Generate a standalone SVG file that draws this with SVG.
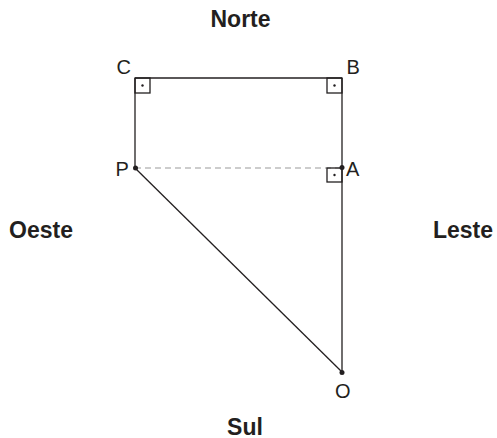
<svg xmlns="http://www.w3.org/2000/svg" width="497" height="438" viewBox="0 0 497 438">
<style>
.l{font-family:"Liberation Sans",Arial,sans-serif;font-size:20px;fill:#231f20}
.b{font-family:"Liberation Sans",Arial,sans-serif;font-size:23px;font-weight:bold;fill:#231f20;text-anchor:middle}
.s{stroke:#231f20;stroke-width:1.3;fill:none}
.d{fill:#231f20}
</style>
<rect width="497" height="438" fill="#fff"/>
<g id="connectors">
<line class="s" x1="135" y1="78" x2="342" y2="78"/>
<line class="s" x1="135" y1="78" x2="135" y2="168"/>
<line class="s" x1="342" y1="78" x2="342" y2="372"/>
<line x1="135" y1="168" x2="342" y2="168" stroke="#999" stroke-width="1.2" stroke-dasharray="6,4"/>
<line class="s" x1="135" y1="168" x2="342" y2="372"/>
<rect class="s" x="135" y="78" width="15" height="15"/>
<rect class="s" x="327" y="78" width="15" height="15"/>
<rect class="s" x="327" y="168" width="15" height="14"/>
<circle class="d" cx="142.5" cy="85.5" r="1.2"/>
<circle class="d" cx="334.5" cy="85.5" r="1.2"/>
<circle class="d" cx="334.5" cy="175" r="1.2"/>
</g>
<g id="C"><text class="l" x="116.5" y="73.5">C</text></g>
<g id="B"><text class="l" x="346.5" y="73.5">B</text></g>
<g id="P"><circle class="d" cx="135.5" cy="168" r="2.5"/><text class="l" x="115.5" y="175.5">P</text></g>
<g id="A"><circle class="d" cx="342" cy="167.5" r="2.5"/><text class="l" x="346" y="175.5">A</text></g>
<g id="O"><circle class="d" cx="342" cy="372.5" r="2.5"/><text class="l" x="335" y="397.5">O</text></g>
<g id="Norte"><text class="b" x="240.5" y="27">Norte</text></g>
<g id="Oeste"><text class="b" x="41" y="238">Oeste</text></g>
<g id="Leste"><text class="b" x="463" y="238">Leste</text></g>
<g id="Sul"><text class="b" x="245" y="434.5">Sul</text></g>
</svg>
